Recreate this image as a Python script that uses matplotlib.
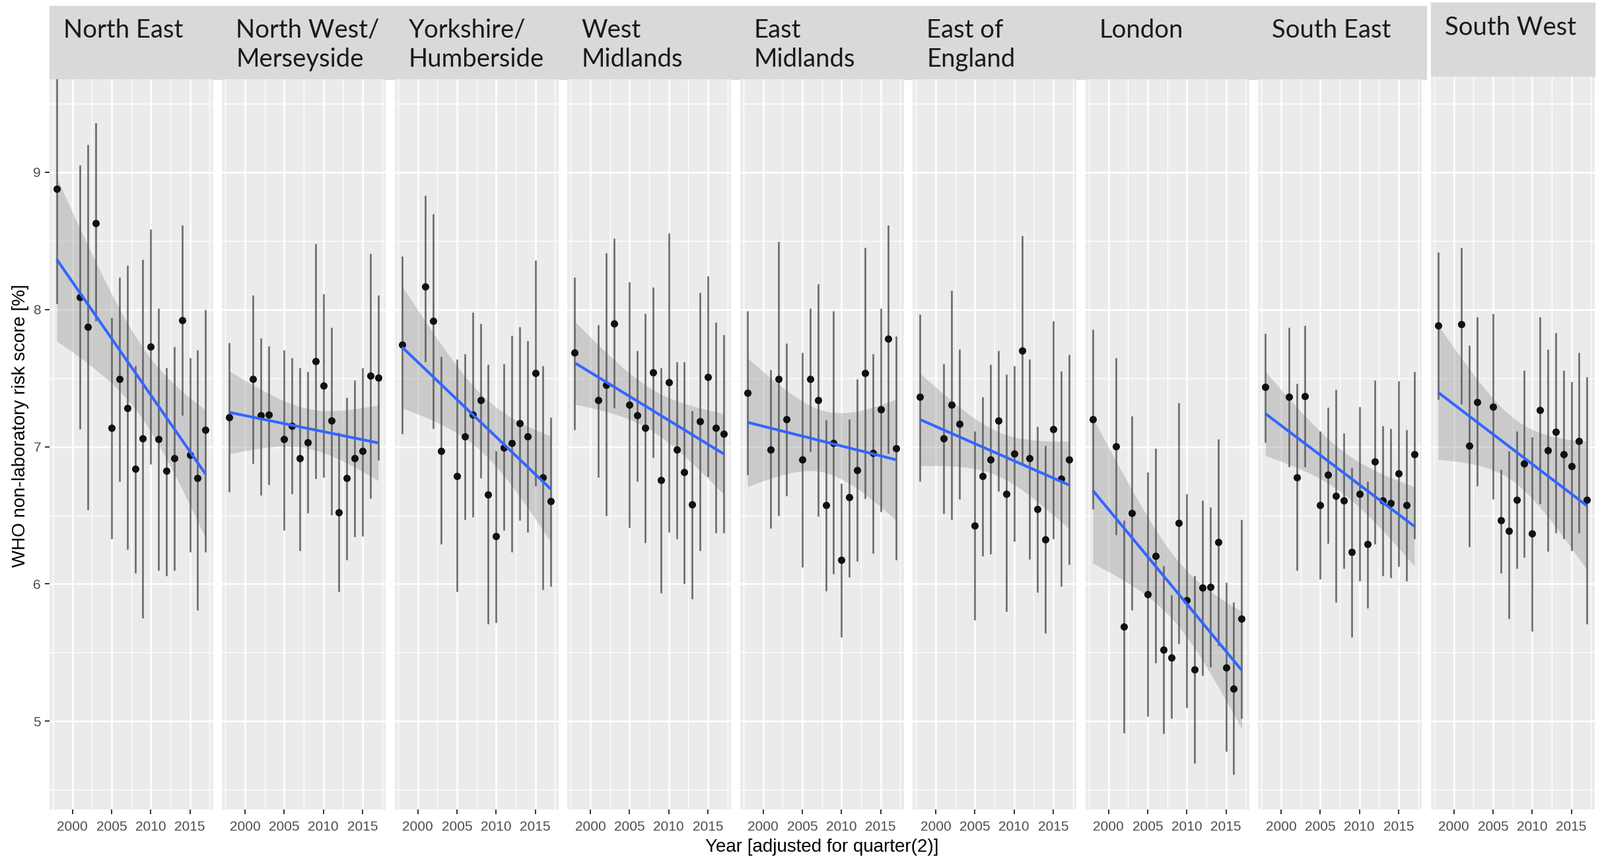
import numpy as np
import matplotlib
matplotlib.use("Agg")
import matplotlib.pyplot as plt

# ---------------- data ----------------
years = [1998, 2001, 2002, 2003, 2005, 2006, 2007, 2008, 2009,
         2010, 2011, 2012, 2013, 2014, 2015, 2016, 2017]

regions = ["North East", "North West/\nMerseyside", "Yorkshire/\nHumberside",
           "West\nMidlands", "East\nMidlands", "East of\nEngland",
           "London", "South East", "South West"]

mean_ne = [8.88, 8.09, 7.875, 8.63, 7.136, 7.496, 7.283, 6.838, 7.06, 7.728, 7.055, 6.824, 6.915, 7.923, 6.94, 6.77, 7.121]
low_ne = [8.04, 7.13, 6.54, 7.915, 6.33, 6.746, 6.25, 6.08, 5.754, 6.875, 6.096, 6.06, 6.096, 7.228, 6.235, 5.81, 6.235]
high_ne = [9.72, 9.055, 9.20, 9.36, 7.94, 8.235, 8.32, 7.59, 8.364, 8.588, 8.011, 7.577, 7.73, 8.614, 7.647, 7.706, 8.0]

mean_nw = [7.217, 7.493, 7.228, 7.235, 7.055, 7.151, 6.915, 7.033, 7.625, 7.445, 7.19, 6.522, 6.772, 6.915, 6.967, 7.518, 7.504]
low_nw = [6.673, 6.879, 6.647, 6.724, 6.393, 6.654, 6.243, 6.518, 6.765, 6.776, 6.504, 5.945, 6.176, 6.342, 6.35, 6.621, 6.90]
high_nw = [7.757, 8.103, 7.794, 7.735, 7.706, 7.647, 7.574, 7.548, 8.478, 8.114, 7.868, 7.103, 7.36, 7.485, 7.577, 8.408, 8.107]

mean_yh = [7.743, 8.169, 7.915, 6.971, 6.787, 7.074, 7.235, 7.338, 6.651, 6.349, 6.993, 7.026, 7.173, 7.074, 7.537, 6.776, 6.603]
low_yh = [7.092, 7.621, 7.132, 6.29, 5.945, 6.47, 6.489, 6.772, 5.706, 5.717, 6.39, 6.235, 6.463, 6.379, 6.713, 5.96, 5.985]
high_yh = [8.39, 8.831, 8.699, 7.658, 7.636, 7.676, 7.978, 7.897, 7.599, 6.97, 7.603, 7.809, 7.875, 7.772, 8.36, 7.588, 7.217]

mean_wm = [7.684, 7.338, 7.452, 7.90, 7.305, 7.228, 7.136, 7.544, 6.757, 7.471, 6.978, 6.813, 6.581, 7.188, 7.507, 7.136, 7.092]
low_wm = [7.125, 6.776, 6.496, 7.283, 6.412, 6.75, 6.301, 6.919, 5.934, 6.375, 6.331, 6.0, 5.893, 6.243, 6.783, 6.371, 6.371]
high_wm = [8.235, 7.89, 8.412, 8.518, 8.199, 7.702, 7.97, 8.165, 7.577, 8.559, 7.621, 7.621, 7.265, 8.125, 8.243, 7.908, 7.816]

mean_em = [7.393, 6.978, 7.496, 7.199, 6.908, 7.493, 7.338, 6.574, 7.029, 6.176, 6.632, 6.831, 7.537, 6.956, 7.272, 7.787, 6.989]
low_em = [6.794, 6.404, 6.5, 6.64, 6.121, 6.963, 6.493, 5.949, 6.074, 5.61, 6.051, 6.165, 6.625, 6.221, 6.526, 6.952, 6.173]
high_em = [7.989, 7.559, 8.493, 7.754, 7.688, 8.007, 8.188, 7.195, 7.989, 6.735, 7.202, 7.493, 8.452, 7.676, 8.011, 8.614, 7.805]

mean_ee = [7.364, 7.063, 7.305, 7.165, 6.426, 6.787, 6.908, 7.191, 6.658, 6.949, 7.699, 6.915, 6.544, 6.324, 7.129, 6.768, 6.908]
low_ee = [6.746, 6.511, 6.47, 6.618, 5.735, 6.206, 6.217, 6.676, 5.798, 6.309, 6.868, 6.18, 5.938, 5.64, 6.327, 5.982, 6.143]
high_ee = [7.967, 7.603, 8.14, 7.71, 7.114, 7.364, 7.599, 7.702, 7.526, 7.588, 8.537, 7.64, 7.147, 7.007, 7.915, 7.551, 7.673]

mean_ld = [7.202, 7.004, 5.688, 6.515, 5.926, 6.206, 5.522, 5.463, 6.445, 5.882, 5.375, 5.971, 5.978, 6.305, 5.393, 5.239, 5.746]
low_ld = [6.544, 6.36, 4.912, 5.809, 5.037, 5.426, 4.908, 5.018, 5.566, 5.096, 4.691, 5.331, 5.397, 5.551, 4.779, 4.61, 5.022]
high_ld = [7.857, 7.647, 6.463, 7.224, 6.813, 6.989, 6.132, 5.919, 7.32, 6.654, 6.059, 6.61, 6.562, 7.055, 6.011, 5.868, 6.471]

mean_se = [7.434, 7.364, 6.779, 7.371, 6.574, 6.794, 6.643, 6.607, 6.232, 6.658, 6.29, 6.89, 6.61, 6.588, 6.805, 6.574, 6.945]
low_se = [7.033, 6.853, 6.099, 6.853, 6.037, 6.294, 5.868, 6.114, 5.614, 6.022, 5.824, 6.29, 6.059, 6.044, 6.129, 6.022, 6.331]
high_se = [7.824, 7.871, 7.46, 7.882, 7.114, 7.287, 7.415, 7.099, 6.849, 7.294, 6.75, 7.485, 7.151, 7.132, 7.478, 7.125, 7.548]

mean_sw = [7.884, 7.892, 7.008, 7.324, 7.292, 6.464, 6.388, 6.612, 6.88, 6.368, 7.268, 6.972, 7.108, 6.944, 6.86, 7.04, 6.612]
low_sw = [7.344, 7.312, 6.272, 6.712, 6.616, 6.08, 5.748, 6.112, 6.196, 5.656, 6.584, 6.236, 6.372, 6.328, 6.244, 6.372, 5.708]
high_sw = [8.416, 8.452, 7.74, 7.944, 7.968, 6.836, 6.968, 7.112, 7.556, 7.068, 7.948, 7.712, 7.832, 7.556, 7.476, 7.688, 7.508]

means = [mean_ne, mean_nw, mean_yh, mean_wm, mean_em, mean_ee, mean_ld, mean_se, mean_sw]
lows = [low_ne, low_nw, low_yh, low_wm, low_em, low_ee, low_ld, low_se, low_sw]
highs = [high_ne, high_nw, high_yh, high_wm, high_em, high_ee, high_ld, high_se, high_sw]

x_ticks = [2000, 2005, 2010, 2015]
y_ticks = [5, 6, 7, 8, 9]
y_label = "WHO non-laboratory risk score [%]"
x_label = "Year [adjusted for quarter(2)]"

# ---------------- layout ----------------
W, H = 2423, 1304
DPI = 100
fig = plt.figure(figsize=(W / DPI, H / DPI), dpi=DPI, facecolor="white")

def fx(px):
    return px / W

def fy(py):
    return 1 - py / H

panel_left0 = 74.6
pitch = 261.5
pw = 248.0
ptop, pbot = 120.0, 1226.0
ylo = 9 - (pbot - 261) / 207.8
xlim = (1997.05, 2017.95)

t975 = 2.131  # t quantile, df = 15
tick_font = "Liberation Sans"
strip_font = "Lato"


def weighted_lm(x, y, w, xs):
    """Inverse-variance weighted linear fit with 95% confidence band."""
    X = np.column_stack([np.ones_like(x), x - 2008])
    Wm = np.diag(w)
    XtWX = X.T @ Wm @ X
    beta = np.linalg.solve(XtWX, X.T @ Wm @ y)
    res = y - X @ beta
    sigma2 = np.sum(w * res ** 2) / (len(x) - 2)
    cov = sigma2 * np.linalg.inv(XtWX)
    X0 = np.column_stack([np.ones_like(xs), xs - 2008])
    fit = X0 @ beta
    se = np.sqrt(np.einsum("ij,jk,ik->i", X0, cov, X0))
    return fit, se


for i, (name, m, lo, hi) in enumerate(zip(regions, means, lows, highs)):
    left = panel_left0 + i * pitch
    top = ptop if i < 8 else 116.0
    ax = fig.add_axes([fx(left), fy(pbot), fx(pw), (pbot - top) / H])
    ax.set_facecolor("#EBEBEB")
    for s in ax.spines.values():
        s.set_visible(False)
    ax.set_xlim(*xlim)
    ax.set_ylim(ylo, 9 + (261 - top) / 207.8)

    # grid
    for v in [1997.5, 2002.5, 2007.5, 2012.5, 2017.5]:
        ax.axvline(v, color="white", lw=1.0, zorder=0.5)
    for v in [4.5, 5.5, 6.5, 7.5, 8.5, 9.5]:
        ax.axhline(v, color="white", lw=1.0, zorder=0.5)
    for v in x_ticks:
        ax.axvline(v, color="white", lw=1.9, zorder=0.6)
    for v in y_ticks:
        ax.axhline(v, color="white", lw=1.9, zorder=0.6)

    x = np.array(years, float)
    y = np.array(m, float)
    half = (np.array(hi, float) - np.array(lo, float)) / 2
    w = 1.0 / half ** 2
    xs = np.linspace(x.min(), x.max(), 100)
    yh, se = weighted_lm(x, y, w, xs)
    ax.fill_between(xs, yh - t975 * se, yh + t975 * se, color="#999999",
                    alpha=0.4, lw=0, zorder=1)

    ax.vlines(x, lo, hi, color="#555555", lw=1.9, alpha=0.85, zorder=2)
    ax.plot(x, y, "o", color="#111111", ms=8, mec="none", zorder=3)
    ax.plot(xs, yh, color="#3366FF", lw=3.0, zorder=4, solid_capstyle="butt")

    ax.set_xticks(x_ticks)
    ax.set_xticklabels([str(t) for t in x_ticks], fontfamily=tick_font,
                       fontsize=15, color="#4D4D4D")
    ax.tick_params(axis="x", length=5, width=1.4, color="#333333", pad=7)
    ax.set_yticks(y_ticks)
    if i == 0:
        ax.set_yticklabels([str(t) for t in y_ticks], fontfamily=tick_font,
                           fontsize=15, color="#4D4D4D")
        ax.tick_params(axis="y", length=5, width=1.4, color="#333333", pad=4)
    else:
        ax.set_yticklabels([])
        ax.tick_params(axis="y", length=0)

# strips
strip_bg = "#D9D9D9"
strip1 = plt.Rectangle((fx(panel_left0), fy(120)),
                       fx(7 * pitch + pw + 7),
                       (120 - 9) / H, transform=fig.transFigure, color=strip_bg, zorder=0)
fig.add_artist(strip1)
l9 = panel_left0 + 8 * pitch
strip2 = plt.Rectangle((fx(l9), fy(116)), fx(pw), (116 - 4) / H,
                       transform=fig.transFigure, color=strip_bg, zorder=0)
fig.add_artist(strip2)

for i, name in enumerate(regions):
    left = panel_left0 + i * pitch + 21
    base = 57 if i < 8 else 53
    for j, line in enumerate(name.split("\n")):
        fig.text(fx(left), fy(base + j * 44), line, fontfamily=strip_font,
                 fontsize=27.5, color="#1A1A1A", ha="left", va="baseline")

fig.text(fx(31), fy(645), y_label, rotation=90, fontfamily=tick_font,
         fontsize=20, color="black", ha="center", va="center")
fig.text(fx(1245), fy(1283), x_label, fontfamily=tick_font,
         fontsize=20, color="black", ha="center", va="center")

fig.savefig("out.png", dpi=DPI, facecolor="white")
